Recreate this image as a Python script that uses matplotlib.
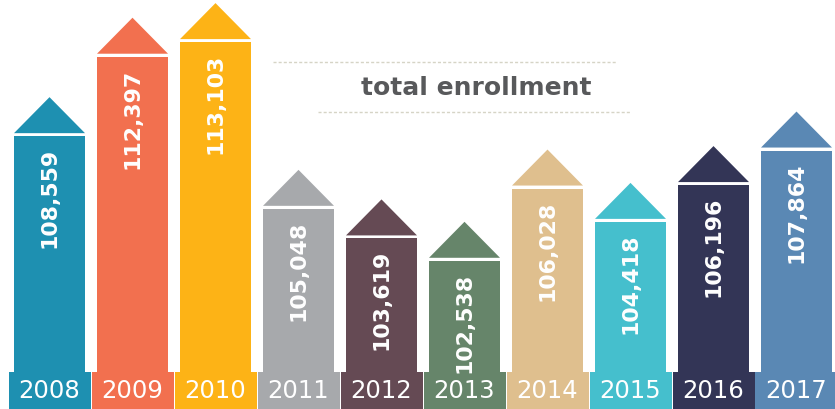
import matplotlib
matplotlib.use("Agg")
import matplotlib.pyplot as plt
from matplotlib.patches import Polygon, Rectangle
from matplotlib.lines import Line2D
import matplotlib.transforms as mtransforms

years = ["2008", "2009", "2010", "2011", "2012", "2013", "2014", "2015", "2016", "2017"]
enrollment = [108559, 112397, 113103, 105048, 103619, 102538, 106028, 104418, 106196, 107864]
colors = ["#1E90B1", "#F2704F", "#FDB316", "#A7A9AC", "#654A54",
          "#66856A", "#DFBF8E", "#45BFCD", "#333556", "#5A88B4"]
title = "total enrollment"

W, H, DPI = 835, 409, 100
fig = plt.figure(figsize=(W / DPI, H / DPI), dpi=DPI)
ax = fig.add_axes([0, 0, 1, 1])
ax.set_axis_off()

step_px = 83.0
x0_px = 49.5
ax.set_xlim(-x0_px / step_px, (W - x0_px) / step_px)
ymin, ymax = 95378, 115137
ax.set_ylim(ymin, ymax)
upp = (ymax - ymin) / H  # data units per pixel

bar_w = 71 / step_px
xs = list(range(len(years)))

ax.bar(xs, [v - ymin for v in enrollment], bottom=ymin, width=bar_w,
       color=colors, zorder=2, linewidth=0)

gap = 3 * upp
tri_h = 36 * upp
for x, v, c in zip(xs, enrollment, colors):
    base = v + gap
    tri = Polygon([(x - bar_w / 2, base), (x + bar_w / 2, base), (x, base + tri_h)],
                  closed=True, facecolor=c, edgecolor="none", zorder=2)
    ax.add_patch(tri)
    ax.annotate(f"{v:,}", xy=(x, v), xytext=(0, -8.5), textcoords="offset points",
                rotation=90, ha="center", va="top", color="white",
                fontsize=15.8, fontweight="bold", family="DejaVu Sans", zorder=4)

# year label boxes
trans = mtransforms.blended_transform_factory(ax.transData, ax.transAxes)
box_w = 82 / step_px
box_top = 1 - 372 / H
for x, y, c in zip(xs, years, colors):
    ax.add_patch(Rectangle((x - box_w / 2, 0), box_w, box_top, transform=trans,
                           facecolor=c, edgecolor="none", zorder=3))
    ax.text(x, 1 - 391.5 / H, y, transform=trans, ha="center", va="center",
            color="white", fontsize=17.5, family="DejaVu Sans", zorder=4)

# title with dotted rules
fig.text(476 / W, 1 - 88 / H, title, ha="center", va="center", fontsize=18,
         fontweight="bold", color="#58595B", family="DejaVu Sans")
for (xa, xb, yp) in [(273, 617, 62), (318, 630, 112)]:
    fig.add_artist(Line2D([xa / W, xb / W], [1 - yp / H, 1 - yp / H],
                          transform=fig.transFigure, color="#D6D4C6",
                          linewidth=1.0, linestyle=(0, (2.2, 1.5))))

fig.savefig("out.png", dpi=DPI, facecolor="white")
